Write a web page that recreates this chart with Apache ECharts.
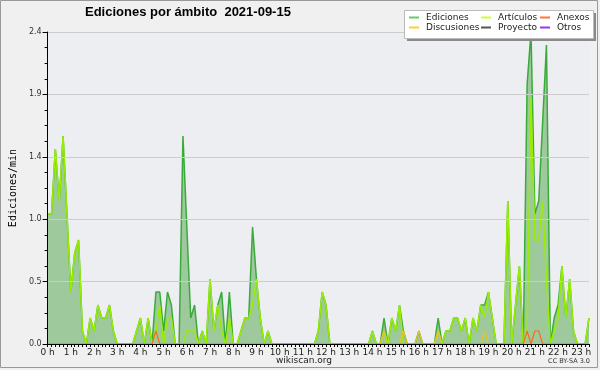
<!DOCTYPE html>
<html><head><meta charset="utf-8">
<script src="https://cdn.jsdelivr.net/npm/echarts@6/dist/echarts.min.js"></script>
<style>html,body{margin:0;padding:0;background:#f0f0f0}#c{width:600px;height:370px}</style>
</head><body><div id="c"></div><script>
// 10-minute steps from 00:00 to 23:20
const times = [];
for (let h = 0; h < 24; h++) for (let m = 0; m < 60; m += 10) { if (h * 60 + m <= 23 * 60 + 20) times.push(h + ':' + (m < 10 ? '0' : '') + m); }

const ediciones = [
1.0,1.0,1.5,1.1,1.6,1.0,0.4,0.7,0.8,0.1, 0,0.2,0.1,0.3,0.2,0.2,0.3,0.1,0,0,
0,0,0,0.1,0.2,0,0.2,0,0.4,0.4, 0.1,0.4,0.3,0,0,1.6,0.9,0.2,0.3,0,
0.1,0,0.5,0.1,0.3,0.4,0,0.4,0,0, 0.1,0.2,0.2,0.9,0.5,0.2,0,0.1,0,0,
0,0,0,0,0,0,0,0,0,0, 0.1,0.4,0.3,0,0,0,0,0,0,0,
0,0,0,0,0.1,0,0,0.2,0,0.2, 0.1,0.3,0.1,0,0,0,0.1,0,0,0,
0,0.2,0,0.1,0.1,0.2,0.2,0.1,0.2,0, 0.2,0.1,0.3,0.3,0.4,0.2,0,0,0,1.1,
0,0.3,0.6,0,2.0,2.4,1.0,1.1,1.7,2.3, 0,0.2,0.3,0.6,0.2,0.5,0.1,0,0,0,
0.2];
const articulos = [
1.0,1.0,1.5,1.1,1.6,1.0,0.4,0.7,0.8,0.1, 0,0.2,0.1,0.3,0.2,0.2,0.3,0.1,0,0,
0,0,0,0.1,0.2,0,0.2,0,0.1,0.3, 0,0.2,0.2,0,0,0,0.1,0.1,0.1,0,
0.1,0,0.5,0.1,0.3,0.1,0,0.2,0,0, 0.1,0.2,0.2,0.3,0.5,0.2,0,0.1,0,0,
0,0,0,0,0,0,0,0,0,0, 0.1,0.4,0.3,0,0,0,0,0,0,0,
0,0,0,0,0.1,0,0,0.1,0,0.2, 0.1,0.3,0,0,0,0,0,0,0,0,
0,0.1,0,0.1,0.1,0.2,0.2,0.1,0.2,0, 0.2,0.1,0.3,0.2,0.4,0.2,0,0,0,1.1,
0,0.3,0.6,0,0.1,1.9,0.8,0.8,1.1,0.5, 0,0.1,0.2,0.6,0.2,0.5,0.1,0,0,0,
0.2];
const anexos = times.map(() => 0);
[28, 124, 126, 127].forEach(i => anexos[i] = 0.1);
const discusiones = times.map(() => 0);
[87, 92, 96, 101, 113].forEach(i => discusiones[i] = 0.1);
const proyecto = times.map(() => 0);
const otros = times.map(() => 0);

const chart = echarts.init(document.getElementById('c'), null, {renderer: 'canvas'});
const F = 'DejaVu Sans';
function lg(names, colors, left) {
  return {
    orient: 'vertical', left: left, top: 13, itemGap: 1, itemWidth: 10, itemHeight: 2,
    icon: 'rect', padding: 0, z: 20, selectedMode: false,
    textStyle: {fontFamily: F, fontSize: 9, color: '#222', padding: [0, 0, 0, 2]},
    data: names.map((n, k) => ({name: n, itemStyle: {color: colors[k]}}))
  };
}
chart.setOption({
  backgroundColor: '#f0f0f0',
  animation: false,
  title: {text: 'Ediciones por ámbito  2021-09-15', left: 85, top: 6, padding: 0,
    textStyle: {fontFamily: 'Liberation Sans', fontWeight: 'bold', fontSize: 13, color: '#000'}},
  legend: [
    lg(['Ediciones', 'Discusiones'], ['#66cc66', '#ffcc33'], 409),
    lg(['Artículos', 'Proyecto'], ['#ccff33', '#555555'], 481),
    lg(['Anexos', 'Otros'], ['#ff7733', '#9933ff'], 540)
  ],
  graphic: [
    {type: 'rect', z: 10, shape: {x: 407, y: 13, width: 189, height: 28}, style: {fill: '#8a8a8a'}},
    {type: 'rect', z: 11, shape: {x: 404.5, y: 10.5, width: 189, height: 28}, style: {fill: '#fff', stroke: '#bbb', lineWidth: 1}},
    {type: 'text', z: 11, left: 276, top: 356, style: {text: 'wikiscan.org', font: '9px "DejaVu Sans"', fill: '#222'}},
    {type: 'text', z: 11, right: 10, top: 358, style: {text: 'CC BY-SA 3.0', font: '6.5px "DejaVu Sans"', fill: '#333'}},
    {type: 'rect', z: 30, shape: {x: 0.5, y: 0.5, width: 597, height: 367}, style: {fill: 'none', stroke: '#999', lineWidth: 1}}
  ],
  grid: {left: 46, right: 11, top: 32, bottom: 26, show: true, backgroundColor: '#eceef1', borderWidth: 0},
  xAxis: {
    type: 'category', data: times, boundaryGap: false, z: 10,
    axisLine: {lineStyle: {color: '#000', width: 1}},
    axisTick: {show: true, interval: 0, length: 3, lineStyle: {color: '#000'}},
    axisLabel: {interval: 5, margin: 4, fontFamily: F, fontSize: 9, color: '#222',
      formatter: v => parseInt(v) + ' h'},
    splitLine: {show: false}
  },
  yAxis: {
    type: 'value', min: 0, max: 2.4, interval: 0.48, z: 10,
    name: 'Ediciones/min', nameLocation: 'middle', nameGap: 29, nameRotate: 90,
    nameTextStyle: {fontFamily: 'DejaVu Sans Mono', fontSize: 10, color: '#000'},
    axisLine: {show: true, lineStyle: {color: '#000'}},
    axisTick: {show: true, length: 5, lineStyle: {color: '#000'}},
    minorTick: {show: true, splitNumber: 4, length: 3, lineStyle: {color: '#000'}},
    axisLabel: {fontFamily: F, fontSize: 8, color: '#333', margin: 6, formatter: v => v.toFixed(1)},
    splitLine: {show: true, lineStyle: {color: '#cccccc', width: 1}}
  },
  series: [
    {name: 'Ediciones', type: 'line', data: ediciones, symbol: 'none', z: 2,
      lineStyle: {color: '#3aab3a', width: 1.5}, itemStyle: {color: '#66cc66'},
      areaStyle: {color: '#9dc99d', opacity: 1}},
    {name: 'Artículos', type: 'line', data: articulos, symbol: 'none', z: 3,
      lineStyle: {color: '#99ee00', width: 1.5}, itemStyle: {color: '#ccff33'}},
    {name: 'Discusiones', type: 'line', data: discusiones, symbol: 'none', z: 4,
      lineStyle: {color: '#f0c020', width: 1.2}, itemStyle: {color: '#ffcc33'}},
    {name: 'Proyecto', type: 'line', data: proyecto, symbol: 'none', z: 1,
      lineStyle: {color: '#555555', width: 1}, itemStyle: {color: '#555555'}},
    {name: 'Otros', type: 'line', data: otros, symbol: 'none', z: 1,
      lineStyle: {color: '#9933ff', width: 1}, itemStyle: {color: '#9933ff'}},
    {name: 'Anexos', type: 'line', data: anexos, symbol: 'none', z: 5,
      lineStyle: {color: '#ff6a1a', width: 1.2}, itemStyle: {color: '#ff7733'}}
  ]
});
</script></body></html>
